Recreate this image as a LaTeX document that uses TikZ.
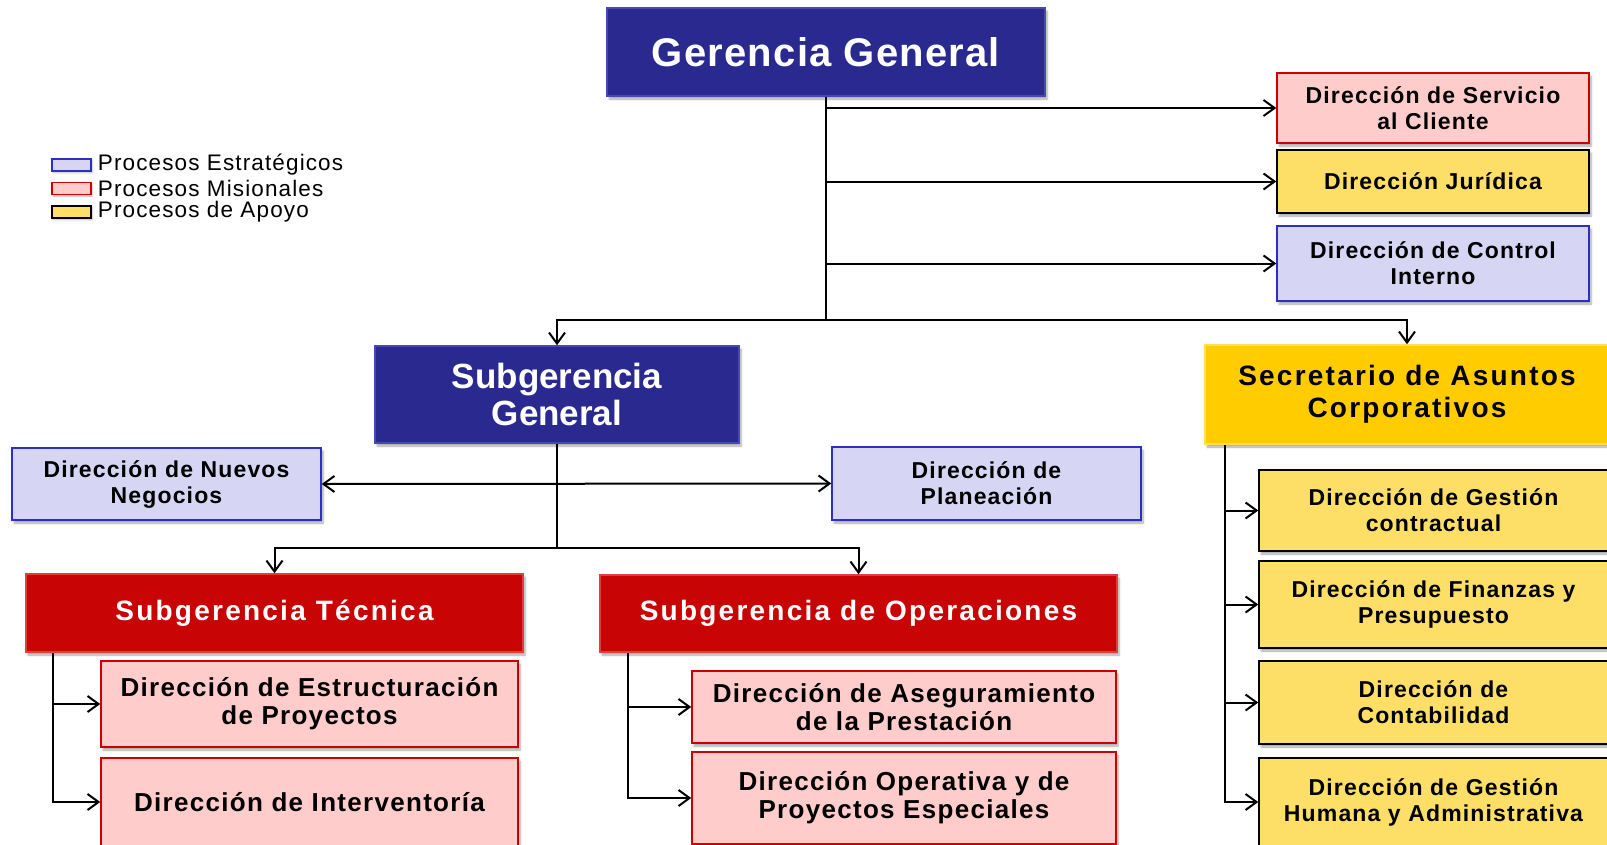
\documentclass[tikz,border=0pt]{standalone}
\usepackage{fontspec}
\setmainfont{Liberation Sans}
\newfontfamily\topfont[LetterSpace=3]{Liberation Sans}
\newfontfamily\headfont[LetterSpace=8]{Liberation Sans}
\newfontfamily\boxfont[LetterSpace=5]{Liberation Sans}
\usetikzlibrary{arrows.meta,shadows.blur}

\definecolor{navy}{RGB}{41,41,143}
\definecolor{navyedge}{RGB}{72,72,178}
\definecolor{redhead}{RGB}{200,4,4}
\definecolor{rededge}{RGB}{228,60,60}
\definecolor{goldhead}{RGB}{255,204,0}
\definecolor{goldedge}{RGB}{255,222,90}
\definecolor{lavfill}{RGB}{214,214,244}
\definecolor{lavedge}{RGB}{45,45,200}
\definecolor{pinkfill}{RGB}{255,204,204}
\definecolor{pinkedge}{RGB}{204,0,0}
\definecolor{yelfill}{RGB}{253,222,102}

\tikzset{
  unit/.style={rectangle, inner sep=0pt, align=center,
    blur shadow={shadow xshift=2pt, shadow yshift=-3pt, shadow blur steps=6, shadow opacity=35}},
  headblue/.style={unit, fill=navy, draw=navyedge, line width=1.5pt, text=white},
  headred/.style={unit, fill=redhead, draw=rededge, line width=1.5pt, text=white,
    font=\headfont\bfseries\fontsize{28}{32}\selectfont},
  headgold/.style={unit, fill=goldhead, draw=goldedge, line width=1.5pt, text=black,
    font=\headfont\bfseries\fontsize{28}{32}\selectfont},
  smallbox/.style={unit, line width=1.5pt, text=black,
    font=\boxfont\bfseries\fontsize{23}{26}\selectfont},
  boxstrat/.style={smallbox, fill=lavfill, draw=lavedge},
  boxmis/.style={smallbox, fill=pinkfill, draw=pinkedge},
  boxapo/.style={smallbox, fill=yelfill, draw=black},
  bigtext/.style={font=\boxfont\bfseries\fontsize{26}{28}\selectfont},
  legbox/.style={rectangle, inner sep=0pt, minimum width=39pt, minimum height=12pt, line width=1.5pt,
    blur shadow={shadow xshift=1pt, shadow yshift=-1.5pt, shadow blur steps=3, shadow opacity=30}},
  legtext/.style={anchor=west, inner sep=0pt, font=\boxfont\fontsize{22.5}{24}\selectfont},
  link/.style={line width=2pt, black},
  arr/.style={link, -{Straight Barb[length=11pt,width=16pt]}},
  arrboth/.style={link, {Straight Barb[length=11pt,width=16pt]}-{Straight Barb[length=11pt,width=16pt]}}
}

\begin{document}
\begin{tikzpicture}[x=1pt,y=-1pt]

  % Page frame
  \useasboundingbox (0,0) rectangle (1607,844);
  \clip (0,0) rectangle (1607,844);

  % Legend
  \node[legbox, fill=lavfill, draw=lavedge] (lgs) at (71.5,165) {};
  \node[legbox, fill=pinkfill, draw=pinkedge] (lgm) at (71.5,188.5) {};
  \node[legbox, fill=yelfill, draw=black] (lga) at (71.5,212) {};
  \node[legtext] (lgstext) at ([xshift=6pt]lgs.east) {Procesos Estratégicos};
  \node[legtext] (lgmtext) at ([xshift=6pt]lgm.east) {Procesos Misionales};
  \node[legtext] (lgatext) at ([xshift=6pt]lga.east) {Procesos de Apoyo};

  % Top level
  \node[headblue, minimum width=438pt, minimum height=88pt,
    font=\topfont\bfseries\fontsize{40}{44}\selectfont] (gg) at (826,52) {Gerencia General};

  % Offices hanging from the top level
  \node[boxmis, minimum width=312pt, minimum height=70pt] (ser) at (1433,108) {Dirección de Servicio\\al Cliente};
  \node[boxapo, minimum width=312pt, minimum height=63pt] (jur) at (1433,181.5) {Dirección Jurídica};
  \node[boxstrat, minimum width=312pt, minimum height=75pt] (ci) at (1433,263.5) {Dirección de Control\\Interno};

  % Second level
  \node[headblue, minimum width=364pt, minimum height=97pt,
    font=\bfseries\fontsize{35}{37}\selectfont] (sg) at (557,394.5) {Subgerencia\\General};
  \node[headgold, minimum width=404pt, minimum height=99pt] (sac) at (1407,394.5) {Secretario de Asuntos\\Corporativos};

  % Offices of the Subgerencia General
  \node[boxstrat, minimum width=309pt, minimum height=72pt] (nn) at (166.5,484) {Dirección de Nuevos\\Negocios};
  \node[boxstrat, minimum width=309pt, minimum height=73pt] (pl) at (986.5,483.5) {Dirección de\\Planeación};

  % Third level
  \node[headred, minimum width=497pt, minimum height=78pt] (st) at (274.5,613) {Subgerencia Técnica};
  \node[headred, minimum width=517pt, minimum height=77pt] (so) at (858.5,613.5) {Subgerencia de Operaciones};

  % Offices of the Subgerencia Técnica
  \node[boxmis, bigtext, minimum width=417pt, minimum height=86pt] (ep) at (309.5,704) {Dirección de Estructuración\\de Proyectos};
  \node[boxmis, bigtext, minimum width=417pt, minimum height=88pt] (iv) at (309.5,802) {Dirección de Interventoría};

  % Offices of the Subgerencia de Operaciones
  \node[boxmis, bigtext, minimum width=424pt, minimum height=72pt] (ap) at (904,707) {Dirección de Aseguramiento\\de la Prestación};
  \node[boxmis, bigtext, minimum width=424pt, minimum height=92pt] (op) at (904,798) {Dirección Operativa y de\\Proyectos Especiales};

  % Offices of the Secretario
  \node[boxapo, minimum width=349pt, minimum height=81pt] (gc) at (1433.5,510.5) {Dirección de Gestión\\contractual};
  \node[boxapo, minimum width=349pt, minimum height=87pt] (fp) at (1433.5,604.5) {Dirección de Finanzas y\\Presupuesto};
  \node[boxapo, minimum width=349pt, minimum height=83pt] (co) at (1433.5,702.5) {Dirección de\\Contabilidad};
  \node[boxapo, minimum width=349pt, minimum height=88pt] (gh) at (1433.5,802) {Dirección de Gestión\\Humana y Administrativa};

  % Junctions
  \coordinate (jg) at (826,320);
  \coordinate (jsg) at (557,548);
  \coordinate (rst) at ([xshift=28pt]st.south west);
  \coordinate (rso) at ([xshift=29pt]so.south west);
  \coordinate (rsac) at ([xshift=21pt]sac.south west);

  % Connectors from the top level
  \draw[link] (gg.south) -- (jg);
  \draw[arr] (gg.south |- ser.west) -- (ser.west);
  \draw[arr] (gg.south |- jur.west) -- (jur.west);
  \draw[arr] (gg.south |- ci.west) -- (ci.west);
  \draw[arr] (jg) -| (sg.north);
  \draw[arr] (jg) -| (sac.north);

  % Connectors from the Subgerencia General
  \draw[link] (sg.south) -- (jsg);
  \draw[arrboth] (nn.east) -- (pl.west);
  \draw[arr] (jsg) -| (st.north);
  \draw[arr] (jsg) -| (so.north);

  % Connectors to the offices
  \draw[arr] (rst) |- (ep.west);
  \draw[arr] (rst) |- (iv.west);
  \draw[arr] (rso) |- (ap.west);
  \draw[arr] (rso) |- (op.west);
  \draw[arr] (rsac) |- (gc.west);
  \draw[arr] (rsac) |- (fp.west);
  \draw[arr] (rsac) |- (co.west);
  \draw[arr] (rsac) |- (gh.west);

\end{tikzpicture}
\end{document}
